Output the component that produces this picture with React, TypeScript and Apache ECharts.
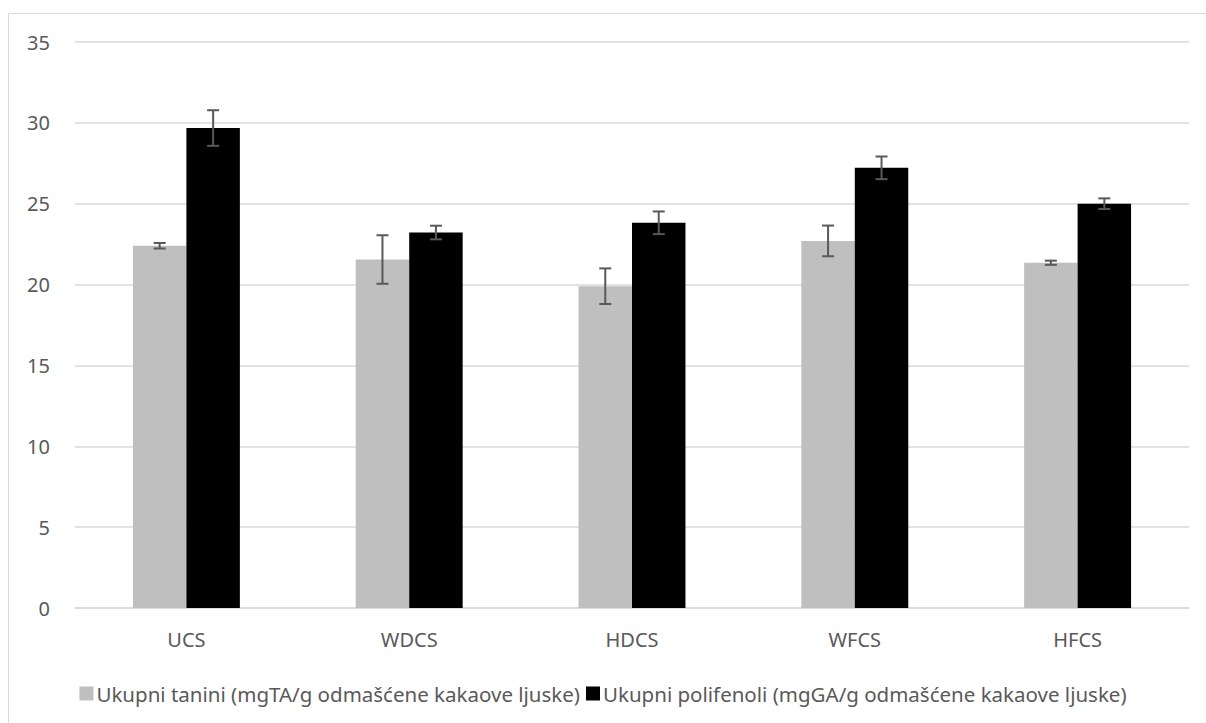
import React, { useEffect, useRef } from "react";
import * as echarts from "echarts";

const categories = ["UCS", "WDCS", "HDCS", "WFCS", "HFCS"];
const taniniName = "Ukupni tanini (mgTA/g odmašćene kakaove ljuske)";
const polifenoliName = "Ukupni polifenoli (mgGA/g odmašćene kakaove ljuske)";
const tanini = [22.4, 21.55, 19.9, 22.7, 21.35];
const taniniErr = [0.17, 1.5, 1.1, 0.95, 0.13];
const polifenoli = [29.68, 23.22, 23.82, 27.22, 25.0];
const polifenoliErr = [1.1, 0.42, 0.7, 0.7, 0.33];
const yTicks = { min: 0, max: 35, interval: 5 };

const FONT = "'Noto Sans', sans-serif";
const CAT_GAP = 0.52;

function errSeries(values: number[], errs: number[], side: number) {
  return {
    type: "custom",
    silent: true,
    z: 10,
    encode: { x: 0, y: [1, 2] },
    data: values.map((v, i) => [i, v - errs[i], v + errs[i]]),
    renderItem: (params: any, api: any) => {
      const idx = api.value(0);
      const lo = api.coord([idx, api.value(1)]);
      const hi = api.coord([idx, api.value(2)]);
      const catW = api.size([1, 0])[0];
      const bw = (catW * (1 - CAT_GAP)) / 2;
      const x = lo[0] + side * bw / 2;
      const cap = 6;
      const style = { stroke: "#595959", lineWidth: 2, fill: "none" };
      return {
        type: "group",
        children: [
          { type: "line", shape: { x1: x, y1: lo[1], x2: x, y2: hi[1] }, style },
          { type: "line", shape: { x1: x - cap, y1: lo[1], x2: x + cap, y2: lo[1] }, style },
          { type: "line", shape: { x1: x - cap, y1: hi[1], x2: x + cap, y2: hi[1] }, style },
        ],
      };
    },
  };
}

export default function App() {
  const ref = useRef<HTMLDivElement>(null);
  useEffect(() => {
    if (!ref.current) return;
    const chart = echarts.init(ref.current, undefined, { renderer: "svg" });
    chart.setOption({
      animation: false,
      backgroundColor: "#ffffff",
      textStyle: { fontFamily: FONT },
      graphic: [
        {
          type: "rect",
          shape: { x: 8.5, y: 13.5, width: 1230, height: 740 },
          style: { fill: "none", stroke: "#d9d9d9", lineWidth: 1 },
          silent: true,
        },
      ],
      grid: { left: 75, right: 17, top: 42, bottom: 115, containLabel: false },
      legend: {
        top: 678,
        left: "center",
        data: [taniniName, polifenoliName],
        icon: "rect",
        itemWidth: 14,
        itemHeight: 14,
        itemGap: 6,
        textStyle: { color: "#595959", fontSize: 20.5, fontFamily: FONT, padding: [0, 0, 0, -2] },
      },
      xAxis: {
        type: "category",
        data: categories,
        axisLine: { lineStyle: { color: "#d9d9d9", width: 1.5 } },
        axisTick: { show: false },
        axisLabel: { color: "#595959", fontSize: 20, margin: 21, fontFamily: FONT },
      },
      yAxis: {
        type: "value",
        min: yTicks.min,
        max: yTicks.max,
        interval: yTicks.interval,
        axisLine: { show: false },
        axisTick: { show: false },
        splitLine: { lineStyle: { color: "#d9d9d9", width: 1.5 } },
        axisLabel: { color: "#595959", fontSize: 20, margin: 25, fontFamily: FONT },
      },
      series: [
        {
          name: taniniName,
          type: "bar",
          data: tanini,
          barGap: "0%",
          barCategoryGap: "52%",
          itemStyle: { color: "#bfbfbf" },
        },
        {
          name: polifenoliName,
          type: "bar",
          data: polifenoli,
          barGap: "0%",
          barCategoryGap: "52%",
          itemStyle: { color: "#000000" },
        },
        errSeries(tanini, taniniErr, -1),
        errSeries(polifenoli, polifenoliErr, 1),
      ],
    });
    return () => chart.dispose();
  }, []);
  return (
    <div
      ref={ref}
      style={{ position: "fixed", left: 0, top: 0, width: 1206, height: 723 }}
    />
  );
}
